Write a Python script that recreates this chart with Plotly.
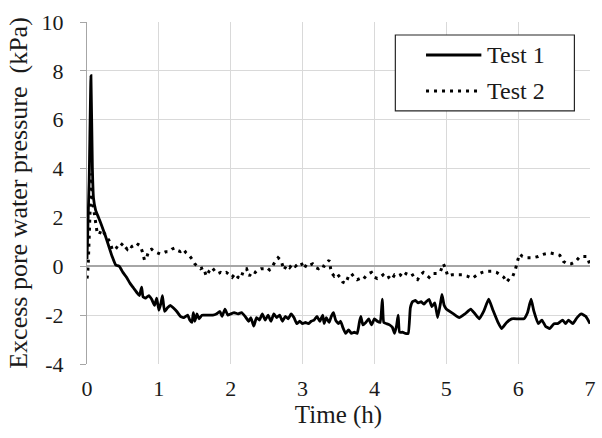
import plotly.graph_objects as go

# Test 1: time (h) and excess pore water pressure (kPa)
t1 = [0.00, 0.03, 0.055, 0.075, 0.09, 0.12, 0.16, 0.20, 0.25, 0.30, 0.35, 0.40, 0.45, 0.50, 0.55,
      0.60, 0.65, 0.70, 0.73, 0.76, 0.78, 0.82, 0.86, 0.90, 0.94, 0.97, 1.00, 1.03, 1.05, 1.08,
      1.12, 1.16, 1.20, 1.25, 1.30, 1.35, 1.40, 1.43, 1.46, 1.48, 1.50, 1.53, 1.56, 1.60, 1.65,
      1.70, 1.75, 1.80, 1.85, 1.88, 1.92, 1.96, 2.00, 2.05, 2.10, 2.15, 2.20, 2.25, 2.28, 2.32,
      2.36, 2.40, 2.44, 2.48, 2.52, 2.56, 2.60, 2.64, 2.68, 2.72, 2.76, 2.80, 2.84, 2.88, 2.92,
      2.96, 3.00, 3.04, 3.08, 3.12, 3.16, 3.20, 3.24, 3.28, 3.30, 3.33, 3.37, 3.40, 3.43, 3.46,
      3.50, 3.53, 3.56, 3.60, 3.64, 3.68, 3.72, 3.76, 3.79, 3.81, 3.84, 3.88, 3.92, 3.96, 4.00,
      4.04, 4.08, 4.11, 4.13, 4.17, 4.21, 4.25, 4.28, 4.31, 4.33, 4.35, 4.39, 4.43, 4.47, 4.50,
      4.53, 4.57, 4.61, 4.65, 4.69, 4.72, 4.76, 4.80, 4.84, 4.88, 4.92, 4.94, 4.97, 5.00, 5.10,
      5.18, 5.26, 5.34, 5.40, 5.46, 5.52, 5.59, 5.65, 5.72, 5.77, 5.84, 5.91, 6.00, 6.08, 6.13,
      6.18, 6.22, 6.28, 6.33, 6.38, 6.44, 6.50, 6.55, 6.62, 6.66, 6.70, 6.76, 6.82, 6.88, 6.94,
      7.00]
p1 = [0.3, 3.5, 7.8, 4.0, 2.8, 2.3, 2.0, 1.7, 1.3, 0.85, 0.4, 0.05, 0.0, -0.25, -0.45,
      -0.7, -0.9, -1.1, -1.2, -0.85, -1.25, -1.3, -1.2, -1.35, -1.6, -1.3, -1.8, -1.5, -1.2, -1.85,
      -1.7, -1.6, -1.7, -1.85, -2.05, -2.1, -2.0, -2.2, -2.3, -1.9, -2.25, -1.95, -2.15, -2.0, -2.0,
      -2.0, -2.0, -1.95, -1.85, -2.05, -1.75, -2.0, -1.95, -1.9, -1.95, -1.9, -2.05, -2.25, -2.1, -2.45,
      -2.1, -2.2, -1.95, -2.2, -2.0, -2.25, -1.95, -2.1, -2.0, -2.25, -2.05, -2.15, -1.95, -2.1, -2.35,
      -2.25, -2.35, -2.3, -2.35, -2.25, -2.2, -2.05, -2.25, -2.0, -2.35, -2.1, -2.3, -2.05, -1.9, -2.2,
      -2.35, -2.25, -2.5, -2.75, -2.6, -2.75, -2.7, -2.75, -2.3, -2.05, -2.4, -2.3, -2.15, -2.4, -2.15,
      -2.25, -2.3, -1.35, -2.3, -2.35, -2.4, -2.5, -2.75, -2.4, -2.0, -2.7, -2.7, -2.75, -2.75, -1.7,
      -1.45, -1.4, -1.5, -1.45, -1.55, -1.45, -1.35, -1.65, -1.5, -2.1, -1.5, -1.15, -1.6, -1.75, -1.95,
      -2.1, -1.95, -1.75, -1.95, -2.15, -1.85, -1.35, -1.8, -2.3, -2.55, -2.3, -2.15, -2.15, -2.15, -1.9,
      -1.35, -1.85, -2.35, -2.2, -2.45, -2.55, -2.35, -2.35, -2.2, -2.35, -2.2, -2.35, -2.1, -1.95, -2.05,
      -2.35]

# Test 2: time (h) and excess pore water pressure (kPa)
t2 = [0.00, 0.01, 0.02, 0.03, 0.04, 0.05, 0.06, 0.07, 0.08, 0.10, 0.12, 0.14, 0.17, 0.20, 0.23,
      0.26, 0.29, 0.32, 0.35, 0.38, 0.41, 0.44, 0.47, 0.50, 0.53, 0.56, 0.59, 0.62, 0.65, 0.68,
      0.71, 0.74, 0.77, 0.80, 0.83, 0.86, 0.90, 0.94, 0.98, 1.02, 1.06, 1.10, 1.14, 1.18, 1.22,
      1.26, 1.30, 1.34, 1.38, 1.42, 1.46, 1.50, 1.54, 1.58, 1.62, 1.66, 1.70, 1.74, 1.78, 1.82,
      1.86, 1.90, 1.94, 1.98, 2.02, 2.06, 2.10, 2.14, 2.18, 2.22, 2.26, 2.30, 2.34, 2.38, 2.42,
      2.46, 2.50, 2.54, 2.58, 2.62, 2.66, 2.70, 2.74, 2.78, 2.82, 2.86, 2.90, 2.94, 2.98, 3.02,
      3.06, 3.10, 3.14, 3.18, 3.22, 3.26, 3.30, 3.34, 3.37, 3.40, 3.44, 3.48, 3.52, 3.56, 3.60,
      3.64, 3.68, 3.72, 3.76, 3.80, 3.84, 3.88, 3.92, 3.96, 4.00, 4.04, 4.08, 4.12, 4.16, 4.20,
      4.24, 4.28, 4.32, 4.36, 4.40, 4.44, 4.48, 4.52, 4.56, 4.60, 4.64, 4.68, 4.72, 4.76, 4.80,
      4.84, 4.88, 4.92, 4.96, 4.99, 5.02, 5.08, 5.15, 5.22, 5.29, 5.36, 5.43, 5.50, 5.57, 5.64,
      5.70, 5.76, 5.80, 5.84, 5.88, 5.92, 5.96, 5.99, 6.02, 6.06, 6.12, 6.20, 6.28, 6.36, 6.44,
      6.52, 6.58, 6.63, 6.68, 6.74, 6.80, 6.86, 6.92, 6.96, 7.00]
p2 = [-0.5, -0.3, 0.3, 1.2, 2.2, 3.2, 3.8, 3.3, 2.6, 2.2, 1.7, 1.4, 1.3, 1.5, 1.4,
      1.25, 1.1, 1.0, 0.7, 0.65, 0.75, 0.9, 0.85, 0.95, 0.8, 0.7, 0.85, 0.8, 0.85, 0.8,
      0.9, 0.85, 0.6, 0.25, 0.35, 0.65, 0.7, 0.6, 0.55, 0.5, 0.55, 0.6, 0.6, 0.7, 0.75,
      0.65, 0.6, 0.7, 0.55, 0.45, 0.3, 0.1, 0.0, -0.1, -0.05, -0.4, -0.2, -0.05, -0.2, -0.3,
      -0.25, -0.3, -0.25, -0.35, -0.45, -0.3, -0.45, -0.5, -0.15, -0.1, -0.4, -0.2, -0.25, -0.15, -0.1,
      -0.1, -0.05, -0.15, 0.0, 0.2, 0.35, 0.25, -0.15, 0.05, -0.05, 0.1, 0.0, 0.1, 0.15, -0.1,
      0.1, 0.05, 0.1, -0.05, -0.1, 0.05, 0.0, 0.15, 0.25, -0.25, -0.4, -0.3, -0.45, -0.65, -0.7,
      -0.4, -0.3, -0.45, -0.55, -0.5, -0.55, -0.4, -0.3, -0.25, -0.45, -0.5, -0.45, -0.35, -0.5, -0.45,
      -0.55, -0.35, -0.4, -0.35, -0.45, -0.3, -0.35, -0.3, -0.5, -0.55, -0.35, -0.25, -0.35, -0.45, -0.3,
      -0.3, -0.3, -0.2, 0.1, -0.1, -0.4, -0.35, -0.35, -0.35, -0.4, -0.5, -0.35, -0.25, -0.2, -0.2,
      -0.25, -0.35, -0.45, -0.65, -0.5, -0.45, -0.15, 0.2, 0.5, 0.4, 0.35, 0.35, 0.4, 0.5, 0.55,
      0.5, 0.45, 0.2, 0.1, 0.1, 0.2, 0.4, 0.4, 0.4, 0.05]

series_names = ["Test 1", "Test 2"]
x_ticks = [0, 1, 2, 3, 4, 5, 6, 7]
y_ticks = [-4, -2, 0, 2, 4, 6, 8, 10]

FONT = "Liberation Serif"
TEXT = "#1a1a1a"
GRID = "#d9d9d9"
AXIS = "#a6a6a6"
DOTS = "3px,5px"

fig = go.Figure()
fig.add_trace(go.Scatter(x=t1, y=p1, mode="lines", name=series_names[0],
                         line=dict(color="black", width=2.8, shape="spline", smoothing=0.4)))
fig.add_trace(go.Scatter(x=t2, y=p2, mode="lines", name=series_names[1],
                         line=dict(color="black", width=3, dash=DOTS)))

# Boxed legend with long line samples
lx0, lx1, ly0, ly1 = 0.613, 0.969, 0.740, 0.962
fig.add_shape(type="rect", xref="paper", yref="paper", x0=lx0, x1=lx1, y0=ly0, y1=ly1,
              line=dict(color="#262626", width=1.2), fillcolor="white", layer="above")
fig.add_shape(type="line", xref="paper", yref="paper", x0=0.674, x1=0.784, y0=0.9035, y1=0.9035,
              line=dict(color="black", width=2.8), layer="above")
fig.add_shape(type="line", xref="paper", yref="paper", x0=0.674, x1=0.782, y0=0.798, y1=0.798,
              line=dict(color="black", width=3, dash=DOTS), layer="above")
for yy, name in zip([0.9035, 0.798], series_names):
    fig.add_annotation(xref="paper", yref="paper", x=0.792, y=yy, text=name, showarrow=False,
                       xanchor="left", yanchor="middle", font=dict(family=FONT, size=24, color=TEXT))

fig.update_layout(
    width=602, height=438,
    margin=dict(l=87, r=6, t=22, b=74),
    paper_bgcolor="white", plot_bgcolor="white",
    showlegend=False,
    font=dict(family=FONT, color=TEXT, size=22),
)
fig.update_xaxes(
    range=[0, 7], tickvals=x_ticks, ticktext=[str(v) for v in x_ticks],
    showgrid=True, gridcolor=GRID, gridwidth=1,
    showline=False, zeroline=False, ticks="",
    tickfont=dict(family=FONT, size=22, color=TEXT), ticklabelstandoff=9,
    title=dict(text="Time (h)", font=dict(family=FONT, size=25, color=TEXT), standoff=4),
)
fig.update_yaxes(
    range=[-4, 10], tickvals=y_ticks, ticktext=[str(v) for v in y_ticks],
    showgrid=True, gridcolor=GRID, gridwidth=1,
    zeroline=True, zerolinecolor=AXIS, zerolinewidth=1.5,
    showline=True, linecolor=AXIS, linewidth=1.2,
    ticks="outside", ticklen=6, tickcolor=AXIS, tickwidth=1.2,
    tickfont=dict(family=FONT, size=22, color=TEXT), ticklabelstandoff=12,
    title=dict(text="Excess pore water pressure  (kPa)", font=dict(family=FONT, size=26, color=TEXT),
               standoff=6),
)

fig.write_html("out.html")
